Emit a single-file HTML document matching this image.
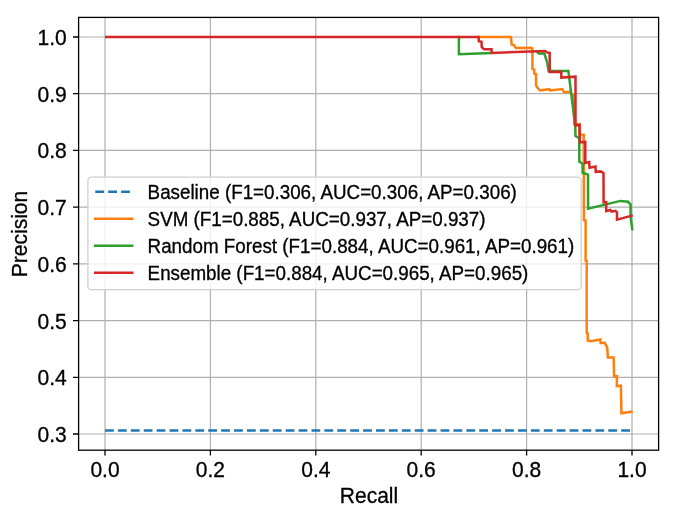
<!DOCTYPE html>
<html><head><meta charset="utf-8">
<style>
html,body{margin:0;padding:0;background:#fff;width:676px;height:519px;overflow:hidden}
svg{display:block;will-change:transform}
text{font-family:"Liberation Sans",sans-serif;fill:#000;stroke:#000;stroke-width:0.3px}
</style></head><body>
<svg width="676" height="519" viewBox="0 0 676 519">
<rect x="0" y="0" width="676" height="519" fill="#fff"/>
<g stroke="#b0b0b0" stroke-width="1.2" fill="none">
<path d="M105.00,17V450M210.40,17V450M315.80,17V450M421.20,17V450M526.60,17V450M632.00,17V450"/>
<path d="M78.5,37.00H658.5M78.5,93.71H658.5M78.5,150.43H658.5M78.5,207.14H658.5M78.5,263.86H658.5M78.5,320.57H658.5M78.5,377.29H658.5M78.5,434.00H658.5"/>
</g>
<g fill="none" stroke-width="2.5" stroke-linejoin="miter" stroke-linecap="butt">
<path stroke="#1f77b4" stroke-dasharray="8.8 4.105" d="M105,430.5H632"/>
<polyline stroke="#ff7f0e" points="477.5,37 511,37 511.6,44.6 514,45.2 516,48.1 531.5,47.8 532.4,49 532.4,68.8 534.2,69.5 534.2,73.6 536,74 536,84.7 536.9,87 540,90.5 549.3,89.2 550.2,90.5 562.2,89 564,92.3 569.5,91.8 573.8,96 574.2,124.2 579.5,124 579.5,134.7 583.7,134.7 583.9,220 585.6,220.5 585.6,260.7 586.7,261 586.7,333.2 587.7,333.5 587.7,340.5 590.8,341.2 600.4,339.5 600.6,343 604.7,342.8 607.2,347.3 607.9,357.4 613.6,357.4 614.1,376.5 617,376.2 616.8,386.2 620.9,385.7 621.4,413.2 632.7,411.5"/>
<polyline stroke="#2ca02c" points="457.6,37 458.9,37 458.9,54.2 491.8,52.9"/>
<polyline stroke="#2ca02c" points="536.6,51.3 538.8,53.5 544.3,53.4 547.3,63 548.6,71 568.4,71 575.3,126 575.5,136 579.3,138.2 579.3,161.6 582.6,163.8 582.6,172.8 588,174.6 588.1,208.6 620.5,200.9 628,201.8 630.6,204.6 630.6,216.6 632.4,230.4"/>
<polyline stroke="#d62728" points="105,37 478.6,37 478.8,41.3 481.5,41.8 481.7,47 484,49.3 491.5,49.3 491.7,52.9 545,50.9 547.1,52.4 549.7,52.9 549.7,71.9 561.3,71.7 561.3,77.6 575.5,76.7 575.5,125.5 579.5,125 579.8,142.2 585.3,141.9 585.3,163 589.3,162 589.5,167.8 595.5,166.5 595.7,171.8 600.8,171.4 603.5,173.2 603.6,202.3 606.2,202.1 606.2,211.2 610.4,210 611.6,211.6 615.4,210.8 617,212.3 617,219.7 632.8,215.4"/>
</g>
<rect x="78.6" y="17.4" width="580" height="432.8" fill="none" stroke="#000" stroke-width="1.3"/>
<g stroke="#000" stroke-width="1.3">
<path d="M73,37.00H78.6M73,93.71H78.6M73,150.43H78.6M73,207.14H78.6M73,263.86H78.6M73,320.57H78.6M73,377.29H78.6M73,434.00H78.6"/>
<path d="M105.00,450V455.5M210.40,450V455.5M315.80,450V455.5M421.20,450V455.5M526.60,450V455.5M632.00,450V455.5"/>
</g>
<text transform="matrix(1,0,0,1.05,0,-2.250)" x="66.7" y="45.0" font-size="21" text-anchor="end">1.0</text>
<text transform="matrix(1,0,0,1.05,0,-5.086)" x="66.7" y="101.71" font-size="21" text-anchor="end">0.9</text>
<text transform="matrix(1,0,0,1.05,0,-7.922)" x="66.7" y="158.43" font-size="21" text-anchor="end">0.8</text>
<text transform="matrix(1,0,0,1.05,0,-10.757)" x="66.7" y="215.14" font-size="21" text-anchor="end">0.7</text>
<text transform="matrix(1,0,0,1.05,0,-13.593)" x="66.7" y="271.86" font-size="21" text-anchor="end">0.6</text>
<text transform="matrix(1,0,0,1.05,0,-16.429)" x="66.7" y="328.57" font-size="21" text-anchor="end">0.5</text>
<text transform="matrix(1,0,0,1.05,0,-19.265)" x="66.7" y="385.29" font-size="21" text-anchor="end">0.4</text>
<text transform="matrix(1,0,0,1.05,0,-22.100)" x="66.7" y="442.0" font-size="21" text-anchor="end">0.3</text>
<text transform="matrix(1,0,0,1.05,0,-23.840)" x="105.0" y="476.8" font-size="21" text-anchor="middle">0.0</text>
<text transform="matrix(1,0,0,1.05,0,-23.840)" x="210.4" y="476.8" font-size="21" text-anchor="middle">0.2</text>
<text transform="matrix(1,0,0,1.05,0,-23.840)" x="315.8" y="476.8" font-size="21" text-anchor="middle">0.4</text>
<text transform="matrix(1,0,0,1.05,0,-23.840)" x="421.2" y="476.8" font-size="21" text-anchor="middle">0.6</text>
<text transform="matrix(1,0,0,1.05,0,-23.840)" x="526.6" y="476.8" font-size="21" text-anchor="middle">0.8</text>
<text transform="matrix(1,0,0,1.05,0,-23.840)" x="632.0" y="476.8" font-size="21" text-anchor="middle">1.0</text>
<text transform="matrix(1,0,0,1.05,0,-25.140)" x="369" y="502.8" font-size="21" text-anchor="middle">Recall</text>
<g transform="translate(27,234) rotate(-90)"><text transform="matrix(1,0,0,1.05,0,-0.000)" x="0" y="0" font-size="21" text-anchor="middle">Precision</text></g>
<rect x="87.9" y="177.1" width="493.3" height="112.6" rx="3.5" ry="3.5" fill="#fff" fill-opacity="0.8" stroke="#cfcfcf" stroke-width="1.3"/>
<g fill="none" stroke-width="2.5">
<path stroke="#1f77b4" stroke-dasharray="8.8 4.1" d="M95.3,191.7H133.5"/>
<path stroke="#ff7f0e" d="M94,218.7H133.5"/>
<path stroke="#2ca02c" d="M94,245.7H133.5"/>
<path stroke="#d62728" d="M94,272.7H133.5"/>
</g>
<text transform="matrix(1,0,0,1.05,0,-9.945)" x="147.6" y="198.9" font-size="18.8">Baseline (F1=0.306, AUC=0.306, AP=0.306)</text>
<text transform="matrix(1,0,0,1.05,0,-11.295)" x="147.6" y="225.9" font-size="18.8">SVM (F1=0.885, AUC=0.937, AP=0.937)</text>
<text transform="matrix(1,0,0,1.05,0,-12.670)" x="147.6" y="253.4" font-size="18.8">Random Forest (F1=0.884, AUC=0.961, AP=0.961)</text>
<text transform="matrix(1,0,0,1.05,0,-14.020)" x="147.6" y="280.4" font-size="18.8">Ensemble (F1=0.884, AUC=0.965, AP=0.965)</text>
</svg>
</body></html>
